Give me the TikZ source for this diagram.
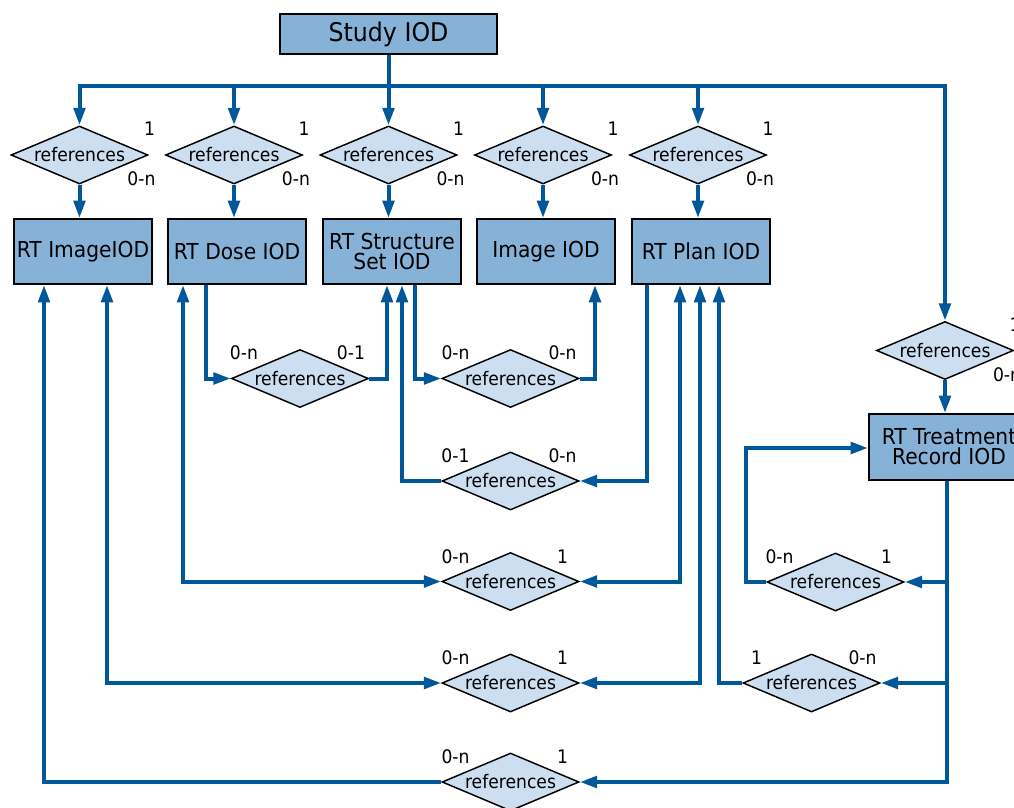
\documentclass[tikz,border=0pt]{standalone}
\usepackage{fontspec}
\setmainfont{DejaVu Sans}[FakeStretch=0.92]
\usetikzlibrary{shapes.geometric,arrows.meta,calc}

\definecolor{wireblue}{RGB}{0,88,154}
\definecolor{boxfill}{RGB}{135,178,215}
\definecolor{relfill}{RGB}{204,222,240}

\tikzset{
  iod/.style={draw=black, line width=1.4pt, fill=boxfill, rectangle, inner sep=0pt,
    minimum width=103.5pt, minimum height=48.75pt, align=center,
    font=\fontsize{16.5}{15}\selectfont},
  rel/.style={draw=black, line width=1.1pt, fill=relfill, diamond, aspect=2.36, inner sep=0pt,
    minimum width=102.75pt, minimum height=43.5pt, font=\fontsize{14}{16}\selectfont},
  card/.style={inner sep=0pt, font=\fontsize{14}{16}\selectfont},
  wire/.style={draw=wireblue, line width=3pt, line join=miter},
  tip/.style={-{Triangle[length=13pt,width=8.5pt]}},
  tips/.style={{Triangle[length=13pt,width=8.5pt]}-{Triangle[length=13pt,width=8.5pt]}},
}

\begin{document}
\begin{tikzpicture}[x=0.75pt, y=-0.75pt]
\useasboundingbox (0,0) rectangle (1014,807);

% study and top-level objects
\node[iod, minimum width=162.75pt, minimum height=30pt, font=\fontsize{19.3}{21}\selectfont] (study) at (388.5,34) {Study IOD};

\node[rel] (r1) at (79.5,155) {references};
\node[rel] (r2) at (234,155) {references};
\node[rel] (r3) at (388.5,155) {references};
\node[rel] (r4) at (543,155) {references};
\node[rel] (r5) at (698,155) {references};
\node[rel] (r6) at (945,350.5) {references};

\node[iod] (rtimg) at (83,251.5) {RT ImageIOD};
\node[iod] (rtdose) at (237,251.5) {RT Dose IOD};
\node[iod] (rtstruct) at (392,251.5) {RT Structure\\Set IOD};
\node[iod] (img) at (546,251.5) {Image IOD};
\node[iod] (rtplan) at (701,251.5) {RT Plan IOD};
\node[iod, minimum width=120pt, minimum height=49.5pt] (treat) at (949,447) {RT Treatment\\Record IOD};

% cardinalities of the top-level relations
\foreach \r in {r1,r2,r3,r4,r5,r6}{
  \node[card] (\r one) at ($(\r)+(70,-26)$) {1};
  \node[card] (\r many) at ($(\r)+(62,24)$) {0-n};
}

% relations between the objects
\node[rel] (dA) at (300,378.5) {references};
\node[rel] (dB) at (510.5,378.5) {references};
\node[rel] (dC) at (510.5,481) {references};
\node[rel] (dD) at (510.5,581.5) {references};
\node[rel] (dE) at (510.5,683) {references};
\node[rel] (dF) at (510.5,782) {references};
\node[rel] (dG) at (811.5,683) {references};
\node[rel] (dH) at (835.5,582) {references};

\node[card] (dAl) at ($(dA)+(-56,-26)$) {0-n};
\node[card] (dAr) at ($(dA)+(51,-26)$) {0-1};
\node[card] (dBl) at ($(dB)+(-55,-26)$) {0-n};
\node[card] (dBr) at ($(dB)+(52,-26)$) {0-n};
\node[card] (dCl) at ($(dC)+(-55,-25)$) {0-1};
\node[card] (dCr) at ($(dC)+(52,-25)$) {0-n};
\node[card] (dDl) at ($(dD)+(-55,-25)$) {0-n};
\node[card] (dDr) at ($(dD)+(52,-25)$) {1};
\node[card] (dEl) at ($(dE)+(-55,-25)$) {0-n};
\node[card] (dEr) at ($(dE)+(52,-25)$) {1};
\node[card] (dFl) at ($(dF)+(-55,-25)$) {0-n};
\node[card] (dFr) at ($(dF)+(52,-25)$) {1};
\node[card] (dGl) at ($(dG)+(-55,-25)$) {1};
\node[card] (dGr) at ($(dG)+(51,-25)$) {0-n};
\node[card] (dHl) at ($(dH)+(-56,-25)$) {0-n};
\node[card] (dHr) at ($(dH)+(51,-25)$) {1};

% distribution bus from the study
\coordinate (busL) at (79.5,86);
\coordinate (busR) at (945,86);
\draw[wire] (study.south) -- (study.south |- busL);
\draw[wire, tips] (r1.north) -- (busL) -- (busR) -- (r6.north);
\foreach \r in {r2,r3,r4,r5}{
  \draw[wire, tip] (\r.north |- busL) -- (\r.north);
}

% top relations to their objects
\draw[wire, tip] (r1.south) -- (r1.south |- rtimg.north);
\draw[wire, tip] (r2.south) -- (r2.south |- rtdose.north);
\draw[wire, tip] (r3.south) -- (r3.south |- rtstruct.north);
\draw[wire, tip] (r4.south) -- (r4.south |- img.north);
\draw[wire, tip] (r5.south) -- (r5.south |- rtplan.north);
\draw[wire, tip] (r6.south) -- (r6.south |- treat.north);

% dose -> structure set
\draw[wire, tip] ($(rtdose.south)+(-31,0)$) |- (dA.west);
\draw[wire, tip] (dA.east) -| ($(rtstruct.south)+(-5,0)$);
% structure set -> image
\draw[wire, tip] ($(rtstruct.south)+(23,0)$) |- (dB.west);
\draw[wire, tip] (dB.east) -| ($(img.south)+(49,0)$);
% plan -> structure set
\draw[wire, tip] ($(rtplan.south)+(-54,0)$) |- (dC.east);
\draw[wire, tip] (dC.west) -| ($(rtstruct.south)+(10,0)$);
% plan <-> dose
\draw[wire, tips] ($(rtplan.south)+(-21,0)$) |- (dD.east);
\draw[wire, tips] (dD.west) -| ($(rtdose.south)+(-54,0)$);
% plan <-> rt image
\draw[wire, tips] ($(rtplan.south)+(-1,0)$) |- (dE.east);
\draw[wire, tips] (dE.west) -| ($(rtimg.south)+(24,0)$);

% treatment record trunk
\coordinate (trunk) at ($(treat.south)+(-2,0)$);
\draw[wire, tip] (trunk) |- (dF.east);
\draw[wire, tip] (dF.west) -| ($(rtimg.south)+(-39,0)$);
\draw[wire, tip] (trunk |- dG.east) -- (dG.east);
\draw[wire, tip] (dG.west) -| ($(rtplan.south)+(18,0)$);
\draw[wire, tip] (trunk |- dH.east) -- (dH.east);
\draw[wire, tip] (dH.west) -| ($(treat.west)+(-122,1)$) -- ($(treat.west)+(0,1)$);
\end{tikzpicture}
\end{document}
